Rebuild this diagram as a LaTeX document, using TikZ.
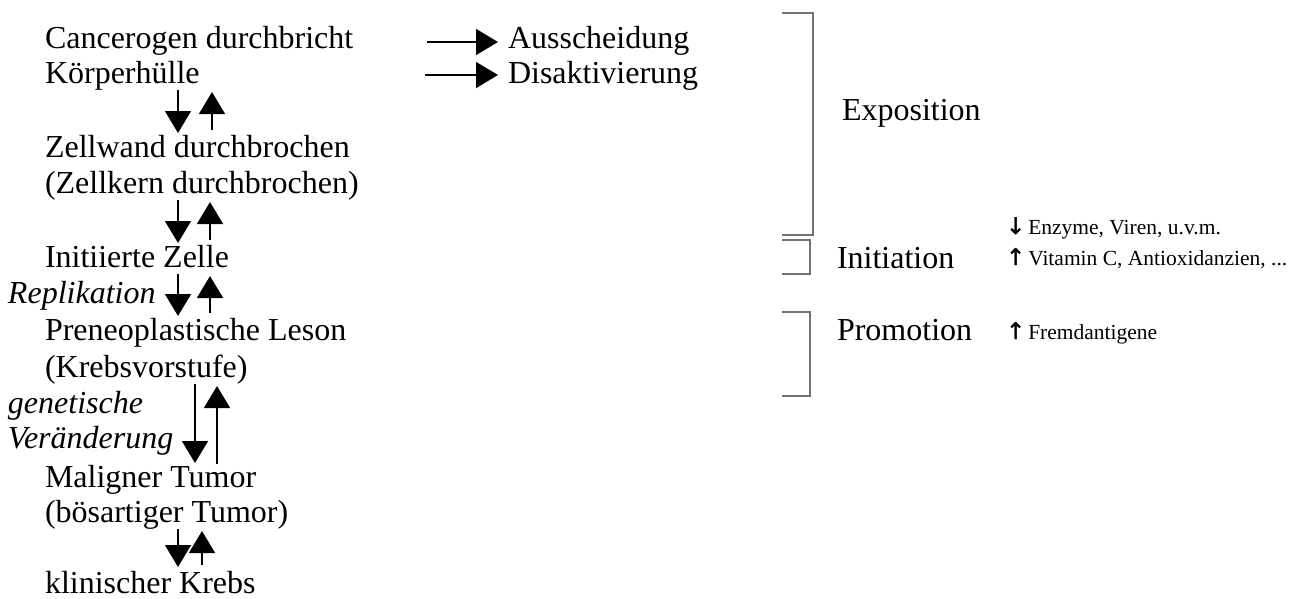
\documentclass[tikz,border=0pt]{standalone}
\usepackage{fontspec}
\setmainfont{Liberation Serif}
\newfontfamily\pfeilfont{DejaVu Sans}[FakeBold=1.5]
\usepackage{xcolor}
\usepackage{tikz}
\usetikzlibrary{calc,arrows.meta}

\begin{document}
\begin{tikzpicture}[x=1pt, y=-1pt, inner sep=0, outer sep=0,
        line/.style={anchor=base west, font=\fontsize{32}{36}\selectfont, text height=22pt, text depth=7pt},
        side/.style={anchor=base west, font=\fontsize{32}{36}\selectfont\itshape},
        small/.style={anchor=base west, font=\fontsize{21.5}{24}\selectfont},
        dn/.style={line width=1.3pt, -{Triangle[width=26pt,length=22pt]}, shorten >=2pt},
        up/.style={line width=1.3pt, -{Triangle[width=26pt,length=22pt]}, shorten >=2pt, shorten <=5pt},
        brace/.style={draw=black!55, line width=1.5pt}]

        \useasboundingbox (0,0) rectangle (1306,598);

        % left column
        \node [line] (can) at (45,48) {Cancerogen durchbricht};
        \node [line] (koe) at (45,83) {Körperhülle};
        \node [line] (zwd) at (45,157) {Zellwand durchbrochen};
        \node [line] (zkd) at (45,193) {(Zellkern durchbrochen)};
        \node [line] (ini) at (45,267) {Initiierte Zelle};
        \node [line] (pre) at (45,340) {Preneoplastische Leson};
        \node [line] (kvs) at (45,377) {(Krebsvorstufe)};
        \node [line] (mal) at (45,487) {Maligner Tumor};
        \node [line] (boe) at (45,522) {(bösartiger Tumor)};
        \node [line] (kli) at (45,593) {klinischer Krebs};

        \node [side] (rep) at (8,303) {Replikation};
        \node [side] (gen) at (8,413) {genetische};
        \node [side] (ver) at (8,448) {Veränderung};

        \draw [dn] ([xshift=133pt]koe.south west) -- ([xshift=133pt]zwd.north west);
        \draw [up] ([xshift=167pt]zwd.north west) -- ([xshift=167pt]koe.south west);
        \draw [dn] ([xshift=133pt]zkd.south west) -- ([xshift=133pt]ini.north west);
        \draw [up] ([xshift=165pt]ini.north west) -- ([xshift=165pt]zkd.south west);
        \draw [dn] ([xshift=133pt]ini.south west) -- ([xshift=133pt]pre.north west);
        \draw [up] ([xshift=165pt]pre.north west) -- ([xshift=165pt]ini.south west);
        \draw [dn] ([xshift=150pt]kvs.south west) -- ([xshift=150pt]mal.north west);
        \draw [up, shorten <=1pt] ([xshift=172pt]mal.north west) -- ([xshift=172pt]kvs.south west);
        \draw [dn, shorten >=4pt] ([xshift=133pt]boe.south west) -- ([xshift=133pt]kli.north west);
        \draw [up, shorten <=6pt] ([xshift=157pt]kli.north west) -- ([xshift=157pt]boe.south west);

        % top arrows
        \node [line] (aus) at (508,48) {Ausscheidung};
        \node [line] (dis) at (508,83) {Disaktivierung};
        \coordinate (a0) at (427,42);
        \coordinate (d0) at (425,75);
        \draw [dn, shorten >=10pt] (a0) -- (a0 -| aus.west);
        \draw [dn, shorten >=10pt] (d0) -- (d0 -| dis.west);

        % brackets
        \draw [brace] (782,13) -- (813,13) -- (813,235) -- (782,235);
        \draw [brace] (782,240) -- (810,240) -- (810,274) -- (782,274);
        \draw [brace] (782,312) -- (810,312) -- (810,396) -- (782,396);

        \node [side, font=\fontsize{32}{36}\selectfont] (exp) at (842,120) {Exposition};
        \node [side, font=\fontsize{32}{36}\selectfont] (inp) at (837,268) {Initiation};
        \node [side, font=\fontsize{32}{36}\selectfont] (pro) at (837,340) {Promotion};

        \node [small] (enz) at (1006,234) {{\pfeilfont\fontsize{23}{24}\selectfont ↓}\hspace{3pt}Enzyme, Viren, u.v.m.};
        \node [small] (vit) at (1006,265) {{\pfeilfont\fontsize{23}{24}\selectfont ↑}\hspace{3pt}Vitamin C, Antioxidanzien, ...};
        \node [small] (fre) at (1006,339) {{\pfeilfont\fontsize{23}{24}\selectfont ↑}\hspace{3pt}Fremdantigene};

\end{tikzpicture}
\end{document}
